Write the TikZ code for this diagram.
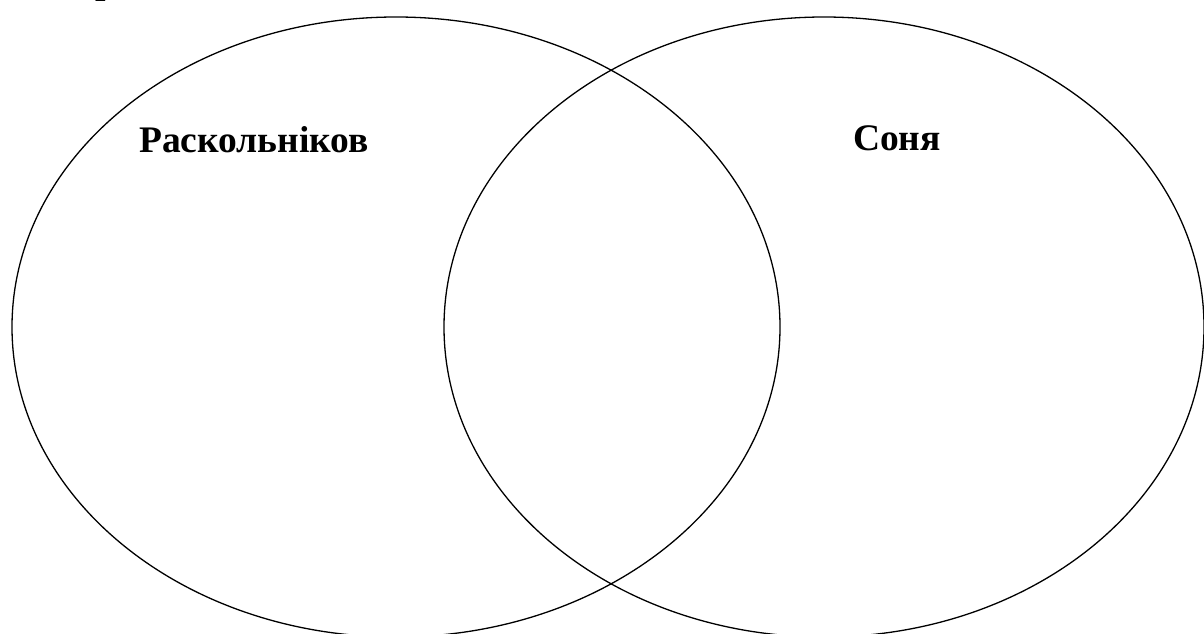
\documentclass[tikz,border=0pt]{standalone}
\usepackage{fontspec}
\setmainfont{Liberation Serif}
\usepackage{tikz}
\usetikzlibrary{calc}

\begin{document}
\begin{tikzpicture}[x=1pt,y=-1pt]
\useasboundingbox (0,0) rectangle (1204,634);
\draw[line width=1.3pt] (396,327) ellipse [x radius=384,y radius=310];
\draw[line width=1.3pt] (824,327) ellipse [x radius=380,y radius=310];
\node[font=\fontsize{37.5}{37.5}\selectfont\bfseries,anchor=base] (rask) at (254,152) {Раскольніков};
\node[font=\fontsize{37.5}{37.5}\selectfont\bfseries,anchor=base] (sonia) at (897,150) {Соня};
\node[font=\fontsize{37.5}{37.5}\selectfont\bfseries,anchor=base west,inner sep=0pt] (head) at (95,-6) {р};
\end{tikzpicture}
\end{document}
